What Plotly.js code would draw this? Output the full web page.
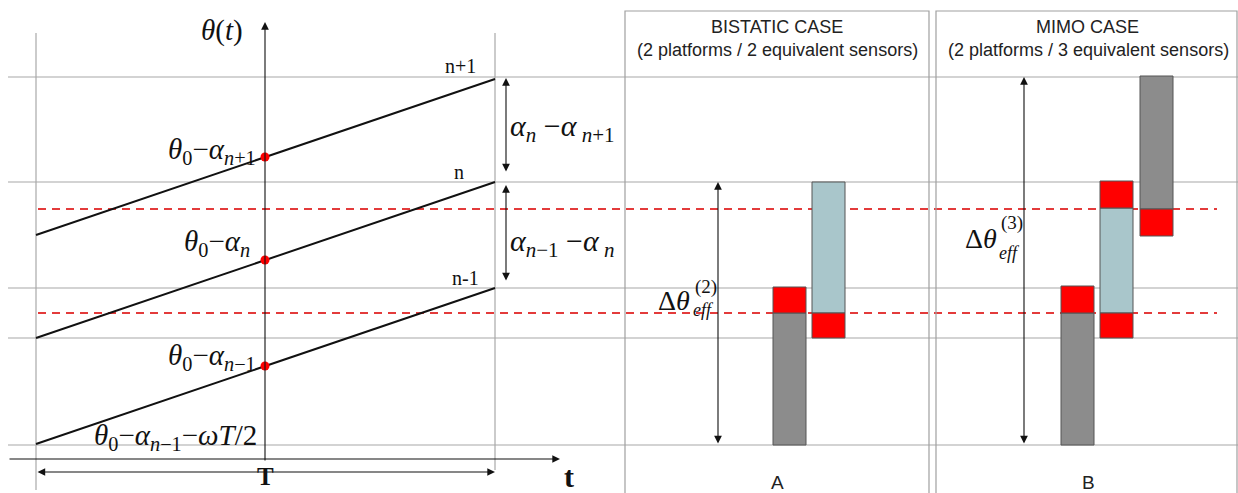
<!DOCTYPE html>
<html>
<head>
<meta charset="utf-8">
<script src="https://cdn.plot.ly/plotly-3.0.1.min.js"></script>
<style>html,body{margin:0;padding:0;background:#fff;}#chart{width:1238px;height:493px;}</style>
</head>
<body>
<div id="chart"></div>
<script>
// ---- diagram values (x: time/column units, y: angle units, both on the figure scale) ----
const gridLevels = [416, 311, 205, 155, 48];          // horizontal reference levels
const dashedLevels = [284, 180];                       // red dashed levels
const rampStartX = 36, rampEndX = 495, rampMidX = 265;
const rampStartY = [258, 155, 49];                     // n+1, n, n-1
const rampEndY   = [414, 311, 205];
const rampNames  = ['n+1', 'n', 'n-1'];

// bar segments: centre x, width, base, height
const greyX   = [789.5, 1077.5, 1156.5];
const greyW   = [33, 33, 33];
const greyB   = [48, 48, 284];
const greyH   = [132, 132, 133];
const blueX   = [828.5, 1116.5];
const blueW   = [33, 33];
const blueB   = [180, 180];
const blueH   = [131, 105];
const redX    = [789.5, 828.5, 1077.5, 1116.5, 1116.5, 1156.5];
const redW    = [33, 33, 33, 33, 33, 33];
const redB    = [180, 155, 180, 155, 285, 257];
const redH    = [26, 25, 27, 25, 27, 27];

const serif = 'Liberation Serif, Times New Roman, serif';
const sans = 'Liberation Sans, Arial, sans-serif';

const traces = [];
for (let i = 0; i < 3; i++) {
  traces.push({x: [rampStartX, rampEndX], y: [rampStartY[i], rampEndY[i]], mode: 'lines',
    line: {color: '#111', width: 2}, hoverinfo: 'skip', showlegend: false});
}
traces.push({x: [rampMidX, rampMidX, rampMidX],
  y: rampStartY.map((v, i) => (v + rampEndY[i]) / 2), mode: 'markers',
  marker: {color: '#ff0000', size: 9}, showlegend: false, hoverinfo: 'skip'});
const barLine = {color: '#555', width: 1};
traces.push({type: 'bar', x: greyX, y: greyH, base: greyB, width: greyW,
  marker: {color: '#8c8c8c', line: barLine}, showlegend: false, hoverinfo: 'skip'});
traces.push({type: 'bar', x: blueX, y: blueH, base: blueB, width: blueW,
  marker: {color: '#a9c6cb', line: barLine}, showlegend: false, hoverinfo: 'skip'});
traces.push({type: 'bar', x: redX, y: redH, base: redB, width: redW,
  marker: {color: '#ff0000', line: barLine}, showlegend: false, hoverinfo: 'skip'});

const shapes = [];
gridLevels.forEach(v => shapes.push({type: 'line', layer: 'below', x0: 8, x1: 1238, y0: v, y1: v,
  line: {color: '#a8a8a8', width: 1.2}}));
dashedLevels.forEach(v => shapes.push({type: 'line', layer: 'below', x0: 38, x1: 1217, y0: v, y1: v,
  line: {color: '#e33b3b', width: 2, dash: '8px,6px'}}));
shapes.push({type: 'line', layer: 'below', x0: 36, x1: 36, y0: 3, y1: 460, line: {color: '#a8a8a8', width: 1.2}});
shapes.push({type: 'line', layer: 'below', x0: 495, x1: 495, y0: 23, y1: 460, line: {color: '#a8a8a8', width: 1.2}});
shapes.push({type: 'rect', layer: 'below', x0: 625, x1: 929, y0: -5, y1: 482, line: {color: '#a0a0a0', width: 1.2}});
shapes.push({type: 'rect', layer: 'below', x0: 936, x1: 1237, y0: -5, y1: 482, line: {color: '#a0a0a0', width: 1.2}});

function arrow(x0, y0, x1, y1, both) {
  return {x: x1, y: y1, ax: x0, ay: y0, xref: 'x', yref: 'y', axref: 'x', ayref: 'y', text: '',
    showarrow: true, arrowhead: 2, startarrowhead: 2, arrowsize: 1.4, startarrowsize: 1.4,
    arrowwidth: 1.1, arrowcolor: '#111', arrowside: both ? 'end+start' : 'end', standoff: 0, startstandoff: 0};
}
function txt(x, y, text, size, opts) {
  return Object.assign({x: x, y: y, xref: 'x', yref: 'y', text: text, showarrow: false,
    font: {family: serif, size: size, color: '#111'}}, opts || {});
}
function stxt(x, y, text, size) {
  return txt(x, y, text, size, {font: {family: sans, size: size, color: '#222'}});
}
const ann = [
  arrow(265, 31, 265, 471, false),
  arrow(8, 34, 560, 34, false),
  arrow(36, 21, 495, 21, true),
  arrow(506, 320, 506, 415, true),
  arrow(506, 211, 506, 308, true),
  arrow(718, 48, 718, 311, true),
  arrow(1024, 48, 1024, 416, true),
  txt(222, 463, '<i>θ</i>(<i>t</i>)', 29),
  txt(460, 427, rampNames[0], 20),
  txt(459, 321, rampNames[1], 20),
  txt(465, 215, rampNames[2], 20),
  txt(258, 342, '<i>θ</i><sub>0</sub>−<i>α</i><sub><i>n</i>+1</sub>', 29, {xanchor: 'right'}),
  txt(252, 250, '<i>θ</i><sub>0</sub>−<i>α</i><sub><i>n</i></sub>', 29, {xanchor: 'right'}),
  txt(258, 136, '<i>θ</i><sub>0</sub>−<i>α</i><sub><i>n</i>−1</sub>', 29, {xanchor: 'right'}),
  txt(92, 56, '<i>θ</i><sub>0</sub>−<i>α</i><sub><i>n</i>−1</sub>−<i>ωT</i>/2', 29, {xanchor: 'left'}),
  txt(508, 365, '<i>α</i><sub><i>n</i></sub> −<i>α</i><sub> <i>n</i>+1</sub>', 30, {xanchor: 'left'}),
  txt(508, 250, '<i>α</i><sub><i>n</i>−1</sub> −<i>α</i><sub> <i>n</i></sub>', 30, {xanchor: 'left'}),
  txt(265, 1, '<b>T</b>', 25, {yanchor: 'bottom'}),
  txt(569, 17, '<b>t</b>', 30),
  txt(692, 193, 'Δ<i>θ</i>', 28, {xanchor: 'right'}),
  txt(706, 206, '(2)', 19),
  txt(703, 183, '<i>eff</i>', 18),
  txt(999, 255, 'Δ<i>θ</i>', 28, {xanchor: 'right'}),
  txt(1012, 270, '(3)', 19),
  txt(1009, 240, '<i>eff</i>', 18),
  stxt(777, 466, 'BISTATIC CASE', 18),
  stxt(777, 443, '(2 platforms / 2 equivalent sensors)', 18),
  stxt(1087, 466, 'MIMO CASE', 18),
  stxt(1088, 443, '(2 platforms / 3 equivalent sensors)', 18),
  stxt(777, 11, 'A', 19),
  stxt(1088, 11, 'B', 19)
];

const layout = {
  width: 1238, height: 493, margin: {l: 0, r: 0, t: 0, b: 0},
  paper_bgcolor: '#fff', plot_bgcolor: '#fff', barmode: 'overlay',
  xaxis: {range: [0, 1238], visible: false, fixedrange: true},
  yaxis: {range: [0, 493], visible: false, fixedrange: true},
  shapes: shapes, annotations: ann, showlegend: false
};
Plotly.newPlot('chart', traces, layout, {staticPlot: true});
</script>
</body>
</html>
